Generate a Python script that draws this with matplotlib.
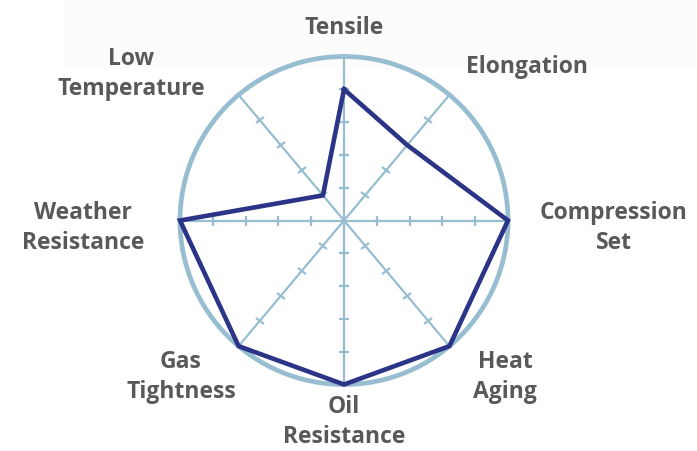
import numpy as np
import matplotlib
matplotlib.use("Agg")
import matplotlib.pyplot as plt
from matplotlib.markers import MarkerStyle
from matplotlib.transforms import Affine2D
from matplotlib.patches import Rectangle

categories = ["Tensile", "Elongation", "Compression\nSet", "Heat\nAging",
              "Oil\nResistance", "Gas\nTightness", "Weather\nResistance",
              "Low\nTemperature"]
values = [0.8, 0.6, 1.0, 1.0, 1.0, 1.0, 1.0, 0.2]
tick_levels = [0.2, 0.4, 0.6, 0.8]
# spoke directions (degrees clockwise from top) as drawn in the reference
spoke_deg = [0, 40, 90, 140, 180, 220, 270, 320]

# label positions in pixels (center x, center y)
label_pos = [(344, 28), (527, 67), (614, 228), (505, 377),
             (344, 422), (181, 377), (83, 228), (131, 74)]

W, H = 697, 452
fig = plt.figure(figsize=(W / 100, H / 100), dpi=100)
fig.patch.set_facecolor("white")
fig.patches.append(Rectangle((65 / W, 1 - 70 / H), 1 - 65 / W, 70 / H,
                             transform=fig.transFigure, facecolor="#fcfcfc",
                             edgecolor="none", zorder=-5))

cx, cy, R = 344, 221.5, 164
ax = fig.add_axes([(cx - R) / W, (H - cy - R) / H, 2 * R / W, 2 * R / H],
                  projection="polar")
ax.set_zorder(1)
ax.set_theta_offset(np.pi / 2)
ax.set_theta_direction(-1)
ax.set_ylim(0, 1)
ax.set_facecolor("none")
ax.patch.set_alpha(0)

spoke_color = "#97bdd0"
angles = np.radians(spoke_deg)

ax.set_xticks(angles)
ax.set_xticklabels([])
ax.set_yticks([])
ax.xaxis.grid(True, color=spoke_color, linewidth=1.6)
ax.yaxis.grid(False)
ax.spines["polar"].set_color(spoke_color)
ax.spines["polar"].set_linewidth(3.4)

for a, deg in zip(angles, spoke_deg):
    m = MarkerStyle("_", transform=Affine2D().rotate_deg(-deg))
    ax.plot([a] * len(tick_levels), tick_levels, linestyle="none", marker=m,
            markersize=7, markeredgewidth=1.6, color=spoke_color,
            clip_on=False, zorder=2)

closed_a = np.concatenate([angles, angles[:1]])
closed_v = values + values[:1]
ax.plot(closed_a, closed_v, color="#2b3486", linewidth=3.3,
        solid_joinstyle="miter", clip_on=False, zorder=3)

for lab, (px, py) in zip(categories, label_pos):
    fig.text(px / W, 1 - py / H, lab, ha="center", va="center",
             fontsize=16.5, fontweight="bold", family="Open Sans",
             color="#595959", linespacing=1.3, zorder=5)

fig.savefig("out.png", dpi=100)
